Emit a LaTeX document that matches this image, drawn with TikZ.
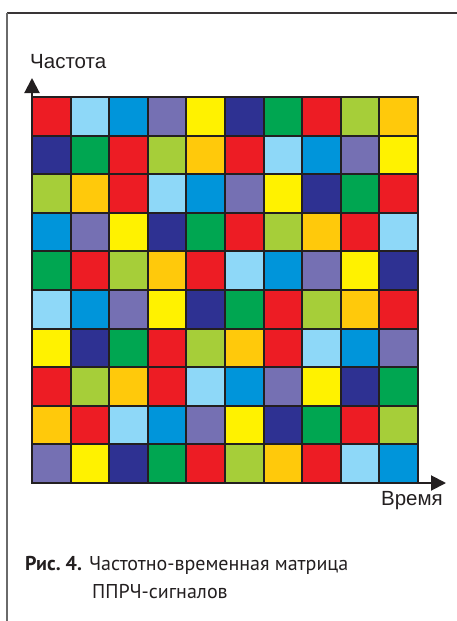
\documentclass[tikz,border=0pt]{standalone}
\usepackage{fontspec}
\setmainfont{Liberation Sans}
\newfontfamily\capfont{PT Sans}
\usetikzlibrary{arrows.meta}
\definecolor{mxInk}{HTML}{231F20}
\definecolor{mxGrey}{HTML}{6A6A6A}
\definecolor{mxR}{HTML}{ED1C24}
\definecolor{mxLB}{HTML}{8ED8F8}
\definecolor{mxB}{HTML}{0095DA}
\definecolor{mxP}{HTML}{7570B3}
\definecolor{mxY}{HTML}{FFF200}
\definecolor{mxN}{HTML}{2E3192}
\definecolor{mxG}{HTML}{00A651}
\definecolor{mxLG}{HTML}{A6CE39}
\definecolor{mxO}{HTML}{FFC90B}
\tikzset{
  cell/.style={draw=mxInk, line width=2pt},
  axis/.style={-{Triangle[length=15pt, width=15pt]}, line width=2pt, draw=mxInk},
  axlbl/.style={font=\fontsize{20.5}{24}\selectfont, text=mxInk, inner sep=0pt},
  caplbl/.style={font=\capfont\fontsize{20}{24}\selectfont, text=mxInk, inner sep=0pt},
  frame/.style={line width=2pt},
}

\begin{document}
\begin{tikzpicture}[x=1pt, y=-1pt]
  \useasboundingbox (0,0) rectangle (457,621);
  % page frame
  \draw[frame, draw=mxInk!90] (457,12.5) -- (7,12.5);
  \draw[frame, draw=mxGrey] (7,12.5) -- (7,621);

  % hopping matrix, rows from top
  \foreach \row [count=\r from 0] in {
      {R,LB,B,P,Y,N,G,R,LG,O},
      {N,G,R,LG,O,R,LB,B,P,Y},
      {LG,O,R,LB,B,P,Y,N,G,R},
      {B,P,Y,N,G,R,LG,O,R,LB},
      {G,R,LG,O,R,LB,B,P,Y,N},
      {LB,B,P,Y,N,G,R,LG,O,R},
      {Y,N,G,R,LG,O,R,LB,B,P},
      {R,LG,O,R,LB,B,P,Y,N,G},
      {O,R,LB,B,P,Y,N,G,R,LG},
      {P,Y,N,G,R,LG,O,R,LB,B}}
    \foreach \c [count=\k from 0] in \row
      \filldraw[cell, fill=mx\c] (32+38.6*\k, 97+38.6*\r) rectangle ++(38.6,38.6);

  \coordinate (org) at (32,483);
  \coordinate (ftip) at (32,78);
  \coordinate (ttip) at (446,483);
  \draw[axis] (org) -- (ftip);
  \draw[axis] (org) -- (ttip);

  \node[axlbl, anchor=base west] (freq) at (30,68) {Частота};
  \node[axlbl, anchor=base east] (time) at (443,505) {Время};

  \node[caplbl, anchor=base west] (cap1) at (25,570) {\textbf{Рис.~4.} Частотно-временная матрица};
  \node[caplbl, anchor=base west] (cap2) at (92,598) {ППРЧ-сигналов};
\end{tikzpicture}
\end{document}
